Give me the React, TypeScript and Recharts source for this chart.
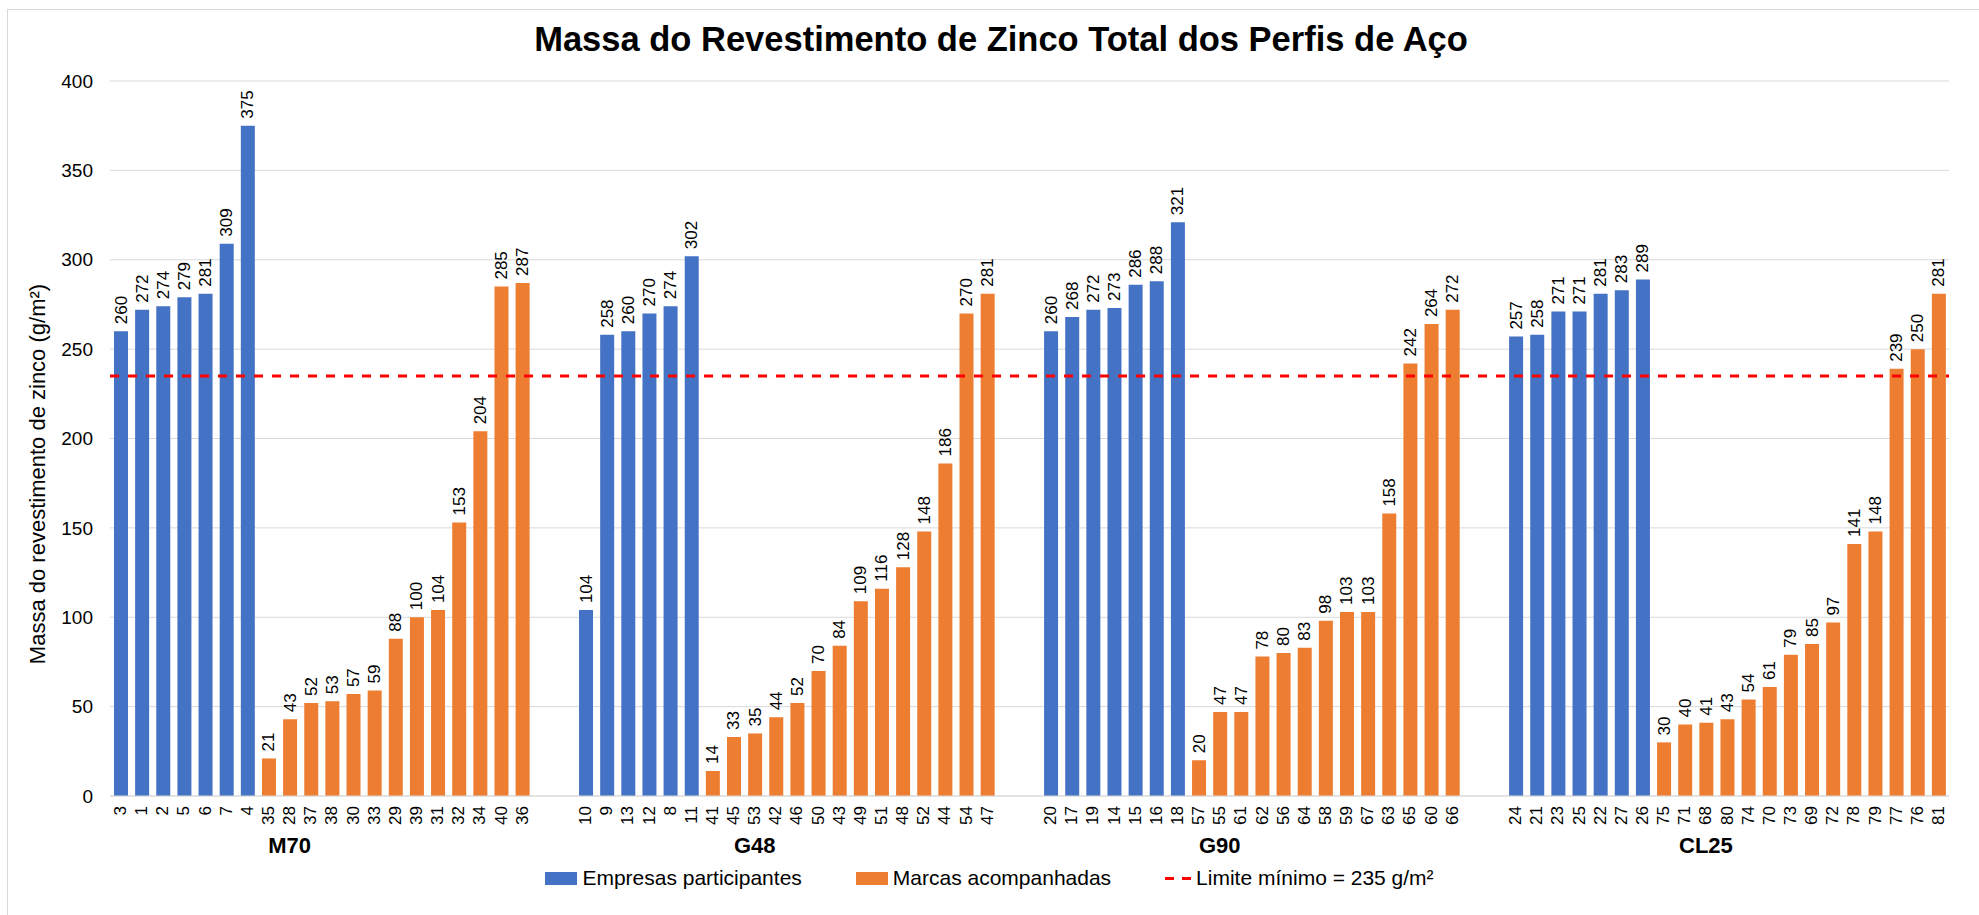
import { BarChart, Bar, XAxis, YAxis, CartesianGrid, ReferenceLine, LabelList, Legend } from 'recharts';

const FONTE = '"Liberation Sans", Arial, sans-serif';
const AZUL = '#4472C4';
const LARANJA = '#ED7D31';
const VERMELHO = '#FF0000';

const grupos = ['M70', 'G48', 'G90', 'CL25'];

// empresas participantes (azul)
const empresasIds = [
  ['3', '1', '2', '5', '6', '7', '4'],
  ['10', '9', '13', '12', '8', '11'],
  ['20', '17', '19', '14', '15', '16', '18'],
  ['24', '21', '23', '25', '22', '27', '26'],
];
const empresasValores = [
  [260, 272, 274, 279, 281, 309, 375],
  [104, 258, 260, 270, 274, 302],
  [260, 268, 272, 273, 286, 288, 321],
  [257, 258, 271, 271, 281, 283, 289],
];

// marcas acompanhadas (laranja)
const marcasIds = [
  ['35', '28', '37', '38', '30', '33', '29', '39', '31', '32', '34', '40', '36'],
  ['41', '45', '53', '42', '46', '50', '43', '49', '51', '48', '52', '44', '54', '47'],
  ['57', '55', '61', '62', '56', '64', '58', '59', '67', '63', '65', '60', '66'],
  ['75', '71', '68', '80', '74', '70', '73', '69', '72', '78', '79', '77', '76', '81'],
];
const marcasValores = [
  [21, 43, 52, 53, 57, 59, 88, 100, 104, 153, 204, 285, 287],
  [14, 33, 35, 44, 52, 70, 84, 109, 116, 128, 148, 186, 270, 281],
  [20, 47, 47, 78, 80, 83, 98, 103, 103, 158, 242, 264, 272],
  [30, 40, 41, 43, 54, 61, 79, 85, 97, 141, 148, 239, 250, 281],
];

const limiteMinimo = 235;
const yTicks = [0, 50, 100, 150, 200, 250, 300, 350, 400];

type Row = { key: string; rotulo: string; empresas?: number; marcas?: number; grupo?: string };

const rows: Row[] = [];
grupos.forEach((g, gi) => {
  const inicio = rows.length;
  empresasIds[gi].forEach((id, i) => rows.push({ key: `${g}-e-${id}`, rotulo: id, empresas: empresasValores[gi][i] }));
  marcasIds[gi].forEach((id, i) => rows.push({ key: `${g}-m-${id}`, rotulo: id, marcas: marcasValores[gi][i] }));
  const n = rows.length - inicio;
  // nome do grupo fica um pouco à esquerda do centro, como no original
  rows[inicio + Math.floor((n - 1) / 2) - 1].grupo = g;
  // espaço entre grupos
  if (gi < grupos.length - 1) {
    rows.push({ key: `vazio-${gi}-a`, rotulo: '' });
    rows.push({ key: `vazio-${gi}-b`, rotulo: '' });
  }
});

function CategoryTick(props: any) {
  const { x, y, payload } = props;
  const row = rows[payload.index];
  if (!row) return null;
  const ty = y + 10;
  return (
    <g>
      {row.rotulo && (
        <text x={x} y={ty} transform={`rotate(-90, ${x}, ${ty})`} textAnchor="end" dominantBaseline="central"
          fontSize={17} fill="#000" fontFamily={FONTE}>
          {row.rotulo}
        </text>
      )}
      {row.grupo && (
        <text x={x} y={y + 57} textAnchor="middle" fontSize={22} fontWeight="bold" fill="#000" fontFamily={FONTE}>
          {row.grupo}
        </text>
      )}
    </g>
  );
}

function ValorLabel(props: any) {
  const { x, y, width, value } = props;
  if (value == null || value === '') return null;
  const cx = x + width / 2;
  const cy = y - 7;
  return (
    <text x={cx} y={cy} transform={`rotate(-90, ${cx}, ${cy})`} textAnchor="start" dominantBaseline="central"
      fontSize={17} fill="#000" fontFamily={FONTE}>
      {value}
    </text>
  );
}

function Legenda() {
  const item = { display: 'flex', alignItems: 'center' } as const;
  return (
    <div style={{ display: 'flex', justifyContent: 'center', alignItems: 'center', gap: 54, fontFamily: FONTE, fontSize: 21, color: '#000' }}>
      <div style={item}>
        <span style={{ display: 'inline-block', width: 32, height: 13, background: AZUL, marginRight: 5 }} />
        Empresas participantes
      </div>
      <div style={item}>
        <span style={{ display: 'inline-block', width: 32, height: 13, background: LARANJA, marginRight: 5 }} />
        Marcas acompanhadas
      </div>
      <div style={item}>
        <svg width={26} height={13} style={{ marginRight: 5 }}>
          <line x1={0} y1={6.5} x2={26} y2={6.5} stroke={VERMELHO} strokeWidth={3} strokeDasharray="9 8" />
        </svg>
        Limite mínimo = 235 g/m²
      </div>
    </div>
  );
}

export default function App() {
  return (
    <div style={{ position: 'absolute', left: 0, top: 0, width: 1979, height: 915, overflow: 'hidden', background: '#fff', fontFamily: FONTE }}>
      <div style={{ position: 'absolute', left: 7, top: 9, width: 2000, height: 1000, border: '1px solid #d9d9d9' }} />
      <div style={{ position: 'absolute', left: 0, top: 22, width: 2002, textAlign: 'center', fontSize: 34.5, fontWeight: 'bold', lineHeight: 1 }}>
        Massa do Revestimento de Zinco Total dos Perfis de Aço
      </div>
      <div style={{ position: 'absolute', left: 38, top: 474, transform: 'translate(-50%, -50%) rotate(-90deg)', whiteSpace: 'nowrap', fontSize: 22 }}>
        Massa do revestimento de zinco (g/m²)
      </div>
      <div style={{ position: 'absolute', left: 0, top: 0 }}>
        <BarChart width={1979} height={915} data={rows} margin={{ top: 81, right: 30, bottom: 29, left: 10 }} barSize={14}>
          <CartesianGrid vertical={false} stroke="#d9d9d9" />
          <XAxis dataKey="key" interval={0} tickLine={false} axisLine={{ stroke: '#d9d9d9' }} height={90}
            tickSize={0} tickMargin={0} tick={(p: any) => <CategoryTick {...p} />} />
          <YAxis domain={[0, 400]} ticks={yTicks} width={100} axisLine={false} tickLine={false} tickSize={0} tickMargin={17}
            tick={{ fontSize: 19, fill: '#000', fontFamily: FONTE }} />
          <Bar dataKey="empresas" name="Empresas participantes" stackId="s" fill={AZUL} isAnimationActive={false}>
            <LabelList dataKey="empresas" content={ValorLabel} />
          </Bar>
          <Bar dataKey="marcas" name="Marcas acompanhadas" stackId="s" fill={LARANJA} isAnimationActive={false}>
            <LabelList dataKey="marcas" content={ValorLabel} />
          </Bar>
          <ReferenceLine y={limiteMinimo} stroke={VERMELHO} strokeWidth={3} strokeDasharray="9 9" />
          <Legend layout="horizontal" verticalAlign="middle" align="center" content={() => <Legenda />}
            wrapperStyle={{ position: 'absolute', top: 866, left: 0, width: 1979 }} />
        </BarChart>
      </div>
    </div>
  );
}
